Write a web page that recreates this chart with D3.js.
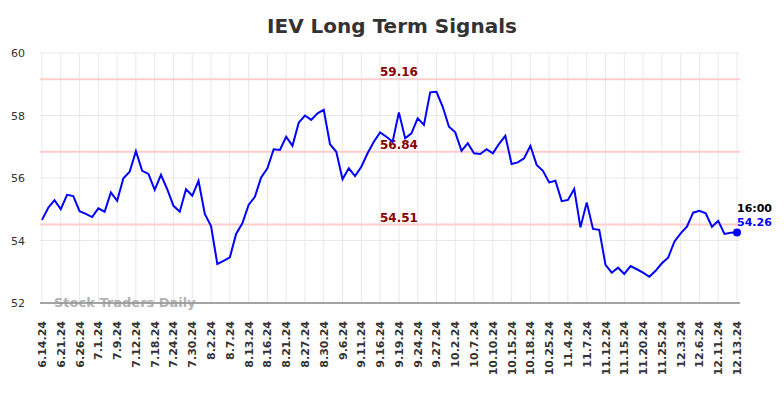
<!DOCTYPE html>
<html>
  <head>
    <meta charset="utf-8">
    <title>IEV Long Term Signals</title>
    <script src="https://cdn.jsdelivr.net/npm/d3@7"></script>
    <style>
      body { margin: 0; background: #fff; }
      svg { display: block; font-family: "DejaVu Sans", sans-serif; }
    </style>
  </head>

  <body>
    <svg id="chart" width="784" height="398"></svg>

    <script>
      // data
      tickLabels = ["6.14.24", "6.21.24", "6.26.24", "7.1.24", "7.9.24", "7.12.24", "7.18.24", "7.24.24",
        "7.30.24", "8.2.24", "8.7.24", "8.13.24", "8.16.24", "8.21.24", "8.27.24", "8.30.24", "9.6.24",
        "9.11.24", "9.16.24", "9.19.24", "9.24.24", "9.27.24", "10.2.24", "10.7.24", "10.10.24", "10.15.24",
        "10.18.24", "10.25.24", "11.4.24", "11.7.24", "11.12.24", "11.15.24", "11.20.24", "11.25.24",
        "12.3.24", "12.6.24", "12.11.24", "12.13.24"];
      prices = [54.66, 55.05, 55.29, 55.00, 55.46, 55.42, 54.94, 54.85, 54.75, 55.03,
        54.92, 55.54, 55.27, 55.99, 56.20, 56.86, 56.23, 56.13, 55.62, 56.10,
        55.64, 55.11, 54.92, 55.64, 55.43, 55.91, 54.85, 54.46, 53.25, 53.35,
        53.46, 54.21, 54.55, 55.14, 55.40, 56.02, 56.31, 56.92, 56.90, 57.32,
        57.03, 57.77, 58.00, 57.86, 58.07, 58.18, 57.08, 56.84, 55.96, 56.31,
        56.06, 56.36, 56.79, 57.16, 57.46, 57.32, 57.16, 58.10, 57.27, 57.43,
        57.91, 57.70, 58.74, 58.76, 58.28, 57.64, 57.46, 56.87, 57.11, 56.79,
        56.77, 56.92, 56.79, 57.09, 57.35, 56.45, 56.50, 56.63, 57.03, 56.42,
        56.23, 55.86, 55.91, 55.26, 55.30, 55.65, 54.42, 55.22, 54.37, 54.34,
        53.22, 52.97, 53.13, 52.93, 53.18, 53.08, 52.97, 52.84, 53.03, 53.27,
        53.45, 53.96, 54.23, 54.44, 54.89, 54.95, 54.87, 54.44, 54.63, 54.21,
        54.25, 54.26];
      levels = [59.16, 56.84, 54.51];
      yTicks = [52, 54, 56, 58, 60];
      lastTime = "16:00";
      tickEvery = 3;

      // elements
      svg = d3.select("#chart");

      x = d3.scaleLinear()
        .domain([0, prices.length - 1])
        .range([42, 737]);

      y = d3.scaleLinear()
        .domain([52, 60])
        .range([303, 53]);

      tickIndex = tickLabels.map(function(d, i) { return i * tickEvery; });

      // grid
      svg.append("g")
        .selectAll("line")
          .data(tickIndex)
        .enter().append("line")
          .attr("x1", function(d) { return x(d); })
          .attr("x2", function(d) { return x(d); })
          .attr("y1", y(60))
          .attr("y2", y(52))
          .style("stroke", "#e8e8e8")
          .style("stroke-width", 1);

      svg.append("g")
        .selectAll("line")
          .data(yTicks)
        .enter().append("line")
          .attr("x1", 40)
          .attr("x2", 740)
          .attr("y1", function(d) { return y(d); })
          .attr("y2", function(d) { return y(d); })
          .style("stroke", "#e8e8e8")
          .style("stroke-width", 1);

      // y labels
      svg.append("g")
        .selectAll("text")
          .data(yTicks)
        .enter().append("text")
          .attr("x", 25)
          .attr("y", function(d) { return y(d) + 4; })
          .attr("text-anchor", "end")
          .style("font-size", "11px")
          .style("fill", "#333")
          .text(function(d) { return d; });

      // x labels
      svg.append("g")
        .selectAll("text")
          .data(tickIndex)
        .enter().append("text")
          .attr("transform", function(d) { return "translate(" + (x(d) + 4) + ",321) rotate(-90)"; })
          .attr("text-anchor", "end")
          .style("font-size", "11px")
          .style("font-weight", "bold")
          .style("fill", "#333")
          .text(function(d, i) { return tickLabels[i]; });

      // bottom axis
      svg.append("line")
        .attr("x1", 40)
        .attr("x2", 740)
        .attr("y1", y(52))
        .attr("y2", y(52))
        .style("stroke", "#555")
        .style("stroke-width", 1.2);

      // watermark
      svg.append("text")
        .attr("x", 54)
        .attr("y", 306.5)
        .style("font-size", "13px")
        .style("font-weight", "bold")
        .style("fill", "#999")
        .style("opacity", .75)
        .text("Stock Traders Daily");

      // signal levels
      svg.append("g")
        .selectAll("line")
          .data(levels)
        .enter().append("line")
          .attr("x1", 40)
          .attr("x2", 740)
          .attr("y1", function(d) { return y(d); })
          .attr("y2", function(d) { return y(d); })
          .style("stroke", "#ffcccc")
          .style("stroke-width", 2);

      svg.append("g")
        .selectAll("text")
          .data(levels)
        .enter().append("text")
          .attr("x", 399)
          .attr("y", function(d) { return y(d) - 3; })
          .attr("text-anchor", "middle")
          .style("font-size", "12px")
          .style("font-weight", "bold")
          .style("fill", "#8b0000")
          .text(function(d) { return d.toFixed(2); });

      // price line
      line = d3.line()
        .x(function(d, i) { return x(i); })
        .y(function(d) { return y(d); });

      svg.append("path")
        .datum(prices)
        .attr("d", line)
        .style("fill", "none")
        .style("stroke", "#0000ff")
        .style("stroke-width", 2);

      last = prices.length - 1;
      svg.append("circle")
        .attr("cx", x(last))
        .attr("cy", y(prices[last]))
        .attr("r", 4)
        .style("fill", "#0000ff");

      svg.append("text")
        .attr("x", x(last))
        .attr("y", 212)
        .style("font-size", "11px")
        .style("font-weight", "bold")
        .style("fill", "#000")
        .text(lastTime);

      svg.append("text")
        .attr("x", x(last))
        .attr("y", 226)
        .style("font-size", "11px")
        .style("font-weight", "bold")
        .style("fill", "#0000ff")
        .text(prices[last].toFixed(2));

      // title
      svg.append("text")
        .attr("x", 392)
        .attr("y", 33)
        .attr("text-anchor", "middle")
        .style("font-size", "20px")
        .style("font-weight", "bold")
        .style("fill", "#333")
        .text("IEV Long Term Signals");
    </script>
  </body>
</html>
